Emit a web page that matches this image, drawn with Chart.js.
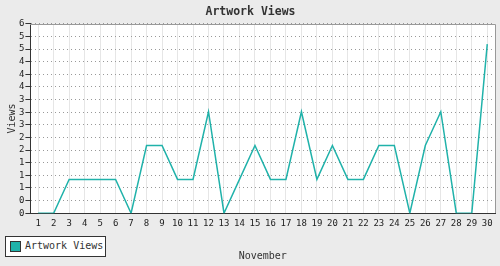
<!DOCTYPE html>
<html>
<head>
<meta charset="utf-8">
<script src="https://cdn.jsdelivr.net/npm/chart.js@4/dist/chart.umd.min.js"></script>
<style>
  html, body { margin: 0; padding: 0; background: #ebebeb; }
  #wrap { position: relative; width: 500px; height: 266px; }
  #c { display: block; }
  #legend {
    position: absolute; left: 5px; top: 236px; width: 99px; height: 19px;
    border: 1px solid #333; background: #fff; box-sizing: content-box;
    font: 10px "DejaVu Sans Mono", monospace; color: #333;
  }
  #legend .sw {
    position: absolute; left: 4px; top: 4px; width: 9px; height: 9px;
    border: 1px solid #333; background: #20b2aa;
  }
  #legend .tx { position: absolute; left: 19px; top: 3px; line-height: 12px; white-space: nowrap; }
</style>
</head>
<body>
<div id="wrap">
  <canvas id="c" width="500" height="266"></canvas>
  <div id="legend"><span class="sw"></span><span class="tx">Artwork Views</span></div>
</div>
<script>
const chartTitle = 'Artwork Views';
const seriesName = 'Artwork Views';
const xAxisTitle = 'November';
const yAxisTitle = 'Views';
const days = ['1','2','3','4','5','6','7','8','9','10','11','12','13','14','15','16','17','18','19','20','21','22','23','24','25','26','27','28','29','30'];
const views = [0,0,1,1,1,1,0,2,2,1,1,3,0,1,2,1,1,3,1,2,1,1,2,2,0,2,3,0,0,5];
const yTickLabels = ['0','0','1','1','1','2','2','3','3','3','4','4','4','5','5','6'];
const yMax = 5.6;

const lineColor = '#20b2aa';
const axisColor = '#333333';

const bgPlugin = {
  id: 'areaBg',
  beforeDraw(chart) {
    const {ctx, chartArea: a} = chart;
    ctx.save();
    ctx.fillStyle = '#ffffff';
    ctx.fillRect(a.left, a.top, a.right - a.left, a.bottom - a.top);
    ctx.restore();
  },
  beforeDatasetsDraw(chart) {
    const {ctx, chartArea: a} = chart;
    ctx.save();
    ctx.strokeStyle = '#999999';
    ctx.lineWidth = 1;
    ctx.beginPath();
    ctx.moveTo(Math.round(a.left), Math.round(a.top) + 0.5);
    ctx.lineTo(Math.round(a.right) + 0.5, Math.round(a.top) + 0.5);
    ctx.lineTo(Math.round(a.right) + 0.5, Math.round(a.bottom));
    ctx.stroke();
    ctx.restore();
  }
};

new Chart(document.getElementById('c'), {
  type: 'line',
  data: {
    labels: days,
    datasets: [{
      label: seriesName,
      data: views,
      borderColor: lineColor,
      backgroundColor: lineColor,
      borderWidth: 1.5,
      pointRadius: 0,
      tension: 0,
      fill: false
    }]
  },
  options: {
    responsive: false,
    devicePixelRatio: 1,
    animation: false,
    layout: { padding: { left: 6, right: 5, top: 0, bottom: 4 } },
    plugins: {
      legend: { display: false },
      tooltip: { enabled: false },
      title: {
        display: true,
        text: chartTitle,
        color: '#333',
        font: { family: 'DejaVu Sans Mono', size: 11.5, weight: 'bold' },
        padding: { top: 5, bottom: 5 }
      }
    },
    scales: {
      x: {
        type: 'category',
        offset: true,
        grid: { offset: false, color: '#e6e6e6', lineWidth: 1, drawTicks: false },
        border: { display: true, color: axisColor, width: 1 },
        ticks: {
          color: '#222',
          font: { family: 'DejaVu Sans Mono', size: 9 },
          padding: 5,
          maxRotation: 0,
          autoSkip: false
        },
        title: {
          display: true,
          text: xAxisTitle,
          color: '#333',
          font: { family: 'DejaVu Sans Mono', size: 10 },
          padding: { top: 16, bottom: 0 }
        }
      },
      y: {
        min: 0,
        max: yMax,
        afterBuildTicks(axis) {
          axis.ticks = yTickLabels.map((l, i) => ({ value: i * yMax / (yTickLabels.length - 1) }));
        },
        grid: { color: '#999999', lineWidth: 1, tickColor: axisColor, tickLength: 5, tickBorderDash: [] },
        border: { display: true, color: axisColor, width: 1, dash: [1, 3] },
        ticks: {
          color: '#222',
          font: { family: 'DejaVu Sans Mono', size: 9 },
          padding: 1,
          autoSkip: false,
          callback: (v, i) => yTickLabels[i]
        },
        title: {
          display: true,
          text: yAxisTitle,
          color: '#333',
          font: { family: 'DejaVu Sans Mono', size: 10 },
          padding: { top: 0, bottom: 0 }
        }
      }
    }
  },
  plugins: [bgPlugin]
});
</script>
</body>
</html>
